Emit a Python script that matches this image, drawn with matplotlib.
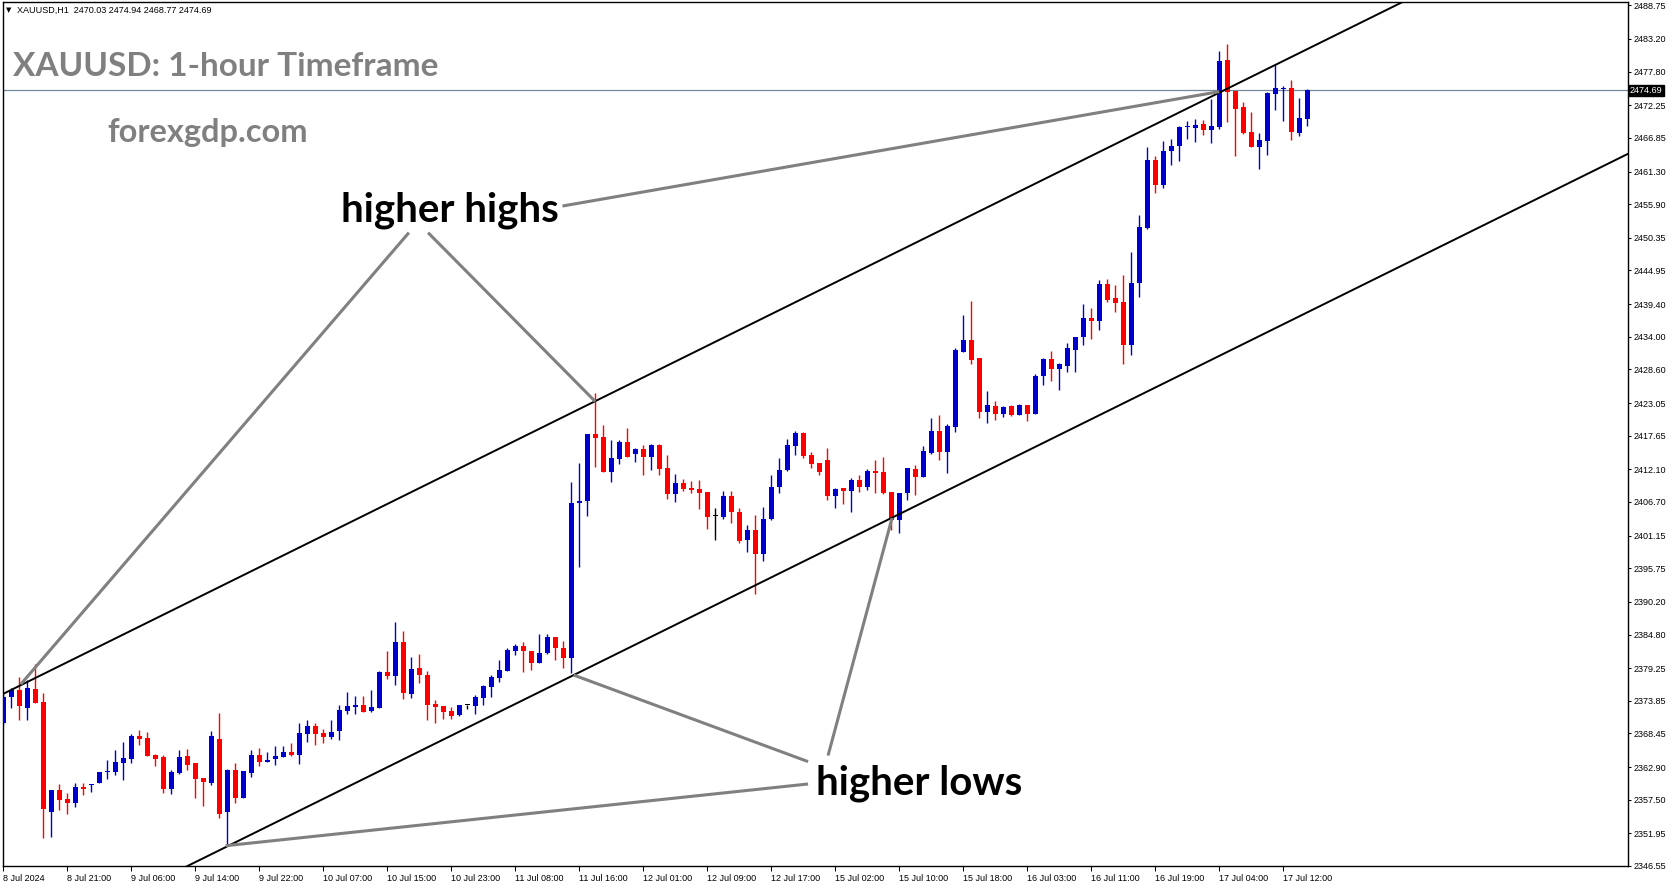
import numpy as np
import matplotlib.pyplot as plt
from matplotlib.transforms import blended_transform_factory

plt.rcParams['font.family'] = ['Liberation Sans', 'DejaVu Sans']

# XAUUSD H1 bars, 8 Jul 2024 13:00 -> 17 Jul 2024 15:00 (one bar per hour, 00:00 break)
opens = [2370.1, 2374.4, 2375.6, 2372.7, 2375.8, 2373.6, 2355.4, 2359.1, 2357.6, 2356.9,
         2359.6, 2360.0, 2360.2, 2362.1, 2362.1, 2363.6, 2364.2, 2368.0, 2367.7, 2364.9,
         2364.6, 2359.3, 2361.9, 2364.7, 2363.6, 2361.1, 2360.3, 2367.5, 2355.4, 2362.4,
         2357.8, 2361.9, 2364.9, 2363.7, 2364.2, 2364.6, 2365.4, 2364.9, 2368.4, 2369.7,
         2368.5, 2367.9, 2368.8, 2372.2, 2372.9, 2373.2, 2372.1, 2372.7, 2378.6, 2378.0,
         2383.6, 2375.0, 2379.3, 2378.1, 2373.3, 2373.0, 2372.2, 2371.5, 2373.2, 2373.0,
         2374.3, 2376.1, 2377.6, 2378.8, 2382.1, 2382.9, 2382.1, 2380.1, 2381.8, 2384.4,
         2382.6, 2380.9, 2406.5, 2406.8, 2417.9, 2417.5, 2411.7, 2413.8, 2416.6, 2414.6,
         2415.5, 2414.1, 2416.1, 2412.3, 2408.0, 2409.8, 2409.0, 2408.8, 2408.3, 2404.4,
         2404.2, 2407.7, 2405.0, 2400.4, 2402.1, 2398.1, 2403.9, 2409.2, 2412.0, 2415.9,
         2418.1, 2414.5, 2413.1, 2413.6, 2407.7, 2409.0, 2408.5, 2410.3, 2409.2, 2411.8,
         2411.7, 2408.3, 2403.7, 2408.1, 2412.2, 2410.8, 2414.8, 2418.4, 2415.0, 2419.1,
         2431.5, 2433.5, 2430.5, 2421.6, 2422.6, 2421.2, 2422.5, 2421.1, 2422.7, 2421.2,
         2427.5, 2430.3, 2428.7, 2429.2, 2431.8, 2434.0, 2437.1, 2436.6, 2442.7, 2440.4,
         2439.7, 2432.6, 2442.9, 2452.0, 2463.2, 2459.1, 2464.7, 2465.5, 2468.6, 2468.5,
         2469.2, 2468.2, 2468.6, 2479.7, 2474.6, 2472.0, 2467.8, 2465.4, 2466.3, 2474.1,
         2474.9, 2475.1, 2467.7, 2470.03]
highs = [2375.0, 2375.9, 2377.7, 2377.3, 2379.9, 2375.2, 2359.1, 2360.1, 2358.6, 2360.3,
         2360.3, 2360.1, 2362.1, 2364.1, 2365.7, 2367.0, 2368.4, 2369.0, 2368.7, 2365.1,
         2364.9, 2362.4, 2365.7, 2365.9, 2363.6, 2361.1, 2368.9, 2371.8, 2362.6, 2363.6,
         2362.3, 2365.7, 2366.1, 2365.4, 2366.4, 2366.4, 2366.9, 2370.2, 2370.7, 2370.2,
         2369.2, 2370.7, 2373.2, 2375.3, 2374.6, 2374.6, 2375.6, 2378.8, 2382.1, 2386.9,
         2385.4, 2381.1, 2381.6, 2378.8, 2374.0, 2373.0, 2372.8, 2373.2, 2373.2, 2374.8,
         2376.5, 2378.1, 2380.6, 2382.6, 2383.2, 2383.6, 2382.1, 2384.9, 2384.9, 2384.4,
         2383.7, 2410.0, 2413.1, 2418.0, 2424.7, 2419.4, 2416.9, 2416.9, 2418.9, 2415.6,
         2416.1, 2416.3, 2416.3, 2414.5, 2411.3, 2410.5, 2410.2, 2410.3, 2408.3, 2405.7,
         2408.5, 2408.5, 2405.7, 2402.9, 2404.5, 2405.9, 2411.2, 2414.0, 2417.1, 2418.4,
         2418.3, 2415.0, 2413.1, 2415.6, 2409.0, 2409.0, 2410.7, 2411.2, 2412.1, 2413.6,
         2414.1, 2408.3, 2408.2, 2412.3, 2412.8, 2416.0, 2420.6, 2421.1, 2419.6, 2432.1,
         2437.6, 2439.9, 2430.5, 2425.0, 2423.4, 2422.6, 2422.7, 2422.9, 2422.7, 2427.8,
         2430.5, 2431.7, 2429.7, 2433.0, 2434.0, 2439.4, 2438.8, 2443.4, 2443.5, 2442.6,
         2444.2, 2448.0, 2454.1, 2465.4, 2463.9, 2466.3, 2466.7, 2468.8, 2469.6, 2470.0,
         2469.8, 2473.3, 2481.2, 2482.4, 2474.6, 2472.8, 2471.1, 2467.7, 2474.4, 2479.1,
         2475.4, 2476.4, 2473.4, 2474.94]
lows = [2369.9, 2372.7, 2370.6, 2370.6, 2373.5, 2351.2, 2351.4, 2355.8, 2355.2, 2356.3,
        2358.2, 2358.7, 2360.2, 2360.9, 2361.6, 2360.8, 2363.6, 2366.6, 2364.8, 2363.0,
        2358.6, 2358.5, 2361.8, 2362.4, 2357.8, 2356.4, 2360.0, 2354.4, 2349.9, 2356.9,
        2357.8, 2361.3, 2363.1, 2363.7, 2363.2, 2364.6, 2364.7, 2363.4, 2367.0, 2366.6,
        2366.9, 2367.5, 2367.4, 2371.7, 2371.7, 2372.0, 2372.0, 2372.7, 2377.5, 2376.5,
        2374.2, 2374.3, 2376.8, 2370.7, 2370.2, 2370.8, 2370.8, 2371.3, 2372.5, 2371.7,
        2373.2, 2374.5, 2377.0, 2378.8, 2381.4, 2378.6, 2378.9, 2380.1, 2381.6, 2380.6,
        2379.3, 2378.5, 2396.0, 2404.4, 2412.5, 2411.7, 2410.0, 2413.0, 2414.1, 2413.3,
        2411.2, 2412.0, 2411.2, 2407.2, 2406.7, 2408.5, 2408.2, 2405.5, 2402.2, 2400.4,
        2403.9, 2403.2, 2399.9, 2398.4, 2391.5, 2396.9, 2403.7, 2408.2, 2411.8, 2414.5,
        2414.0, 2412.3, 2411.2, 2407.0, 2405.7, 2406.4, 2405.0, 2408.3, 2408.7, 2408.2,
        2408.0, 2402.1, 2401.5, 2407.1, 2407.9, 2410.8, 2414.6, 2413.6, 2411.5, 2418.3,
        2431.5, 2429.5, 2420.6, 2419.8, 2420.2, 2420.7, 2420.9, 2421.0, 2420.1, 2421.2,
        2426.0, 2426.7, 2425.2, 2428.2, 2428.2, 2432.6, 2433.6, 2435.1, 2439.7, 2438.1,
        2429.5, 2431.0, 2440.6, 2451.8, 2457.8, 2458.6, 2462.4, 2463.0, 2466.7, 2466.2,
        2467.3, 2466.0, 2468.4, 2469.5, 2463.9, 2467.5, 2465.4, 2461.7, 2464.0, 2471.5,
        2469.6, 2466.5, 2467.2, 2468.77]
closes = [2374.5, 2375.6, 2373.0, 2376.0, 2373.5, 2355.9, 2359.1, 2357.5, 2356.9, 2359.6,
          2359.3, 2360.1, 2362.1, 2362.3, 2363.7, 2364.4, 2368.1, 2367.6, 2364.8, 2364.2,
          2359.3, 2362.1, 2364.6, 2363.3, 2360.9, 2360.5, 2368.0, 2355.2, 2362.4, 2357.8,
          2362.3, 2364.9, 2363.7, 2364.1, 2364.7, 2365.4, 2364.9, 2368.5, 2369.7, 2368.4,
          2367.9, 2368.7, 2372.3, 2373.0, 2373.2, 2372.0, 2372.8, 2378.6, 2378.0, 2383.6,
          2375.1, 2379.1, 2378.1, 2373.2, 2372.8, 2372.0, 2371.3, 2373.2, 2373.2, 2374.5,
          2376.3, 2377.8, 2378.9, 2382.2, 2382.9, 2382.1, 2380.1, 2381.8, 2384.4, 2382.6,
          2380.9, 2406.5, 2406.9, 2417.9, 2417.3, 2411.7, 2414.0, 2416.6, 2414.1, 2415.5,
          2414.1, 2416.1, 2412.1, 2408.0, 2409.8, 2408.8, 2408.7, 2408.2, 2404.2, 2404.4,
          2407.7, 2405.0, 2400.2, 2402.1, 2398.1, 2403.9, 2409.2, 2412.0, 2416.1, 2418.1,
          2414.3, 2413.0, 2411.7, 2407.7, 2408.8, 2408.5, 2410.3, 2409.2, 2411.8, 2411.5,
          2408.2, 2403.7, 2408.2, 2412.3, 2410.8, 2415.1, 2418.4, 2415.0, 2419.3, 2431.8,
          2433.5, 2430.2, 2421.6, 2422.7, 2421.2, 2422.4, 2421.1, 2422.7, 2421.2, 2427.5,
          2430.3, 2428.7, 2429.5, 2432.1, 2434.0, 2437.1, 2436.6, 2442.7, 2440.1, 2439.6,
          2432.6, 2442.9, 2452.1, 2463.2, 2459.1, 2464.7, 2465.5, 2468.7, 2468.7, 2469.0,
          2468.2, 2468.8, 2479.6, 2474.5, 2471.6, 2467.7, 2465.4, 2466.5, 2474.3, 2475.1,
          2475.1, 2467.8, 2470.1, 2474.69]

price_ticks = ["2488.75", "2483.20", "2477.80", "2472.25", "2466.85", "2461.30", "2455.90",
               "2450.35", "2444.95", "2439.40", "2434.00", "2428.60", "2423.05", "2417.65",
               "2412.10", "2406.70", "2401.15", "2395.75", "2390.20", "2384.80", "2379.25",
               "2373.85", "2368.45", "2362.90", "2357.50", "2351.95", "2346.55"]
time_labels = ["8 Jul 2024", "8 Jul 21:00", "9 Jul 06:00", "9 Jul 14:00", "9 Jul 22:00",
               "10 Jul 07:00", "10 Jul 15:00", "10 Jul 23:00", "11 Jul 08:00", "11 Jul 16:00",
               "12 Jul 01:00", "12 Jul 09:00", "12 Jul 17:00", "15 Jul 02:00", "15 Jul 10:00",
               "15 Jul 18:00", "16 Jul 03:00", "16 Jul 11:00", "16 Jul 19:00", "17 Jul 04:00",
               "17 Jul 12:00"]
last_price = 2474.69

# rising channel (both lines share one slope)
channel_slope = 0.6535
upper_start = 2375.0
lower_start = 2331.5

W, H = 1673, 888
fig = plt.figure(figsize=(W / 100, H / 100), dpi=100)
ax = fig.add_axes([2.5 / W, 22 / H, 1625.5 / W, 864 / H])
ax.set_xlim(-0.1, 203.1)
ax.set_ylim(2346.55, 2489.31)

o = np.array(opens)
c = np.array(closes)
x = np.arange(len(o))
colors = np.where(c > o, '#0000CC', np.where(c < o, '#FF0000', 'black'))

ax.axhline(last_price, color='#778899', lw=0.9, zorder=1)
ax.vlines(x, lows, highs, colors=colors, lw=1.0, zorder=2)
ax.bar(x, np.maximum(np.abs(c - o), 0.18), 0.625, bottom=np.minimum(o, c),
       color=colors, linewidth=0, zorder=3)

xs = np.array([-2, 210])
ax.plot(xs, upper_start + channel_slope * xs, color='black', lw=1.4, zorder=4)
ax.plot(xs, lower_start + channel_slope * xs, color='black', lw=1.4, zorder=4)

gray = '#808080'
def pointer(x0, y0, x1, y1):
	ax.plot([x0, x1], [y0, y1], color=gray, lw=2.2, solid_capstyle='butt', zorder=5)

pointer(69.9, 2455.6, 152, 2474.5)
pointer(50.7, 2451.2, 2.2, 2376.6)
pointer(53.1, 2451.2, 74, 2423.3)
pointer(100.6, 2363.8, 71.3, 2378.1)
pointer(100.6, 2360.1, 27.8, 2349.9)
pointer(103.1, 2364.8, 111.1, 2404.05)

ax.text(42.2, 2453.1, 'higher highs', family='Lato', fontweight='bold', fontsize=29,
        color='black', va='baseline', ha='left', zorder=6)
ax.text(101.6, 2358.3, 'higher lows', family='Lato', fontweight='bold', fontsize=29,
        color='black', va='baseline', ha='left', zorder=6)

fig.text(13 / W, 1 - 75.8 / H, 'XAUUSD: 1-hour Timeframe', family='Lato', fontweight='bold',
         fontsize=24, color=gray, va='baseline', ha='left')
fig.text(107 / W, 1 - 142 / H, 'forexgdp.com', family='Lato', fontweight='bold',
         fontsize=23.5, color=gray, va='baseline', ha='left')
fig.text(6 / W, 1 - 10.5 / H, '▼', family='DejaVu Sans', fontsize=5, va='center', ha='left')
fig.text(17 / W, 1 - 10.5 / H, 'XAUUSD,H1  2470.03 2474.94 2468.77 2474.69', fontsize=6.5,
         va='center', ha='left')

# price scale on the right
ax.yaxis.tick_right()
ax.set_yticks([float(t) for t in price_ticks])
ax.set_yticklabels(price_ticks)
ax.tick_params(axis='y', length=2.5, pad=1.5, labelsize=6.5, width=0.75)
trans = blended_transform_factory(ax.transAxes, ax.transData)
ax.text(1.0 + 2 / 1625.5, last_price, '2474.69', transform=trans, ha='left', va='center',
        color='white', fontsize=6.5,
        bbox=dict(boxstyle='square,pad=0.12', fc='black', ec='black'))

# time scale
ax.set_xticks(np.arange(0, 8 * len(time_labels), 8))
ax.set_xticklabels(time_labels)
ax.tick_params(axis='x', length=3.5, pad=2, labelsize=6.5, width=0.75)
plt.setp(ax.get_xticklabels(), ha='left')

for s in ax.spines.values():
	s.set_linewidth(1.0)
	s.set_color('black')

fig.savefig('out.png', dpi=100)
